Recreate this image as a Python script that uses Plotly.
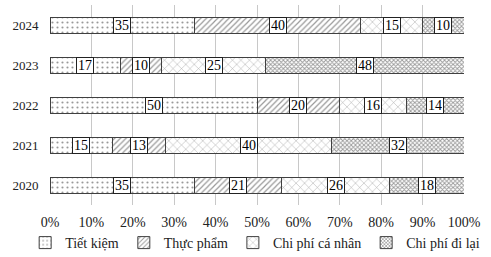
import plotly.graph_objects as go

years = ["2020", "2021", "2022", "2023", "2024"]
series_names = ["Tiết kiệm", "Thực phẩm", "Chi phí cá nhân", "Chi phí đi lại"]
tiet_kiem = [35, 15, 50, 17, 35]
thuc_pham = [21, 13, 20, 10, 40]
ca_nhan = [26, 40, 16, 25, 15]
di_lai = [18, 32, 14, 48, 10]
x_ticks = [0, 10, 20, 30, 40, 50, 60, 70, 80, 90, 100]
x_tick_labels = [f"{t}%" for t in x_ticks]

series_values = [tiet_kiem, thuc_pham, ca_nhan, di_lai]
patterns = [
    dict(shape=".", size=5, solidity=0.15, fgcolor="#333333", bgcolor="white"),
    dict(shape="/", size=4, solidity=0.3, fgcolor="#333333", bgcolor="white"),
    dict(shape="x", size=6, solidity=0.15, fgcolor="#444444", bgcolor="white"),
    dict(shape="x", size=3, solidity=0.5, fgcolor="#333333", bgcolor="white"),
]

FONT = "Liberation Serif"
fig = go.Figure()
for name, vals, pat in zip(series_names, series_values, patterns):
    fig.add_trace(go.Bar(
        y=years, x=vals, name=name, orientation="h",
        marker=dict(color="white", pattern=pat, line=dict(color="#404040", width=1)),
        hoverinfo="skip",
    ))

annotations = []
for yi, yr in enumerate(years):
    cum = 0
    for vals in series_values:
        v = vals[yi]
        annotations.append(dict(
            x=cum + v / 2, y=yi, xref="x", yref="y", text=str(v), showarrow=False,
            font=dict(family=FONT, size=14, color="black"),
            bgcolor="white", bordercolor="#222222", borderwidth=1, borderpad=1,
            height=13,
        ))
        cum += v

fig.update_layout(
    barmode="stack", bargap=0.6,
    width=491, height=257,
    margin=dict(l=50, r=27, t=5, b=52, autoexpand=False),
    paper_bgcolor="white", plot_bgcolor="white",
    font=dict(family=FONT, size=13, color="#222222"),
    annotations=annotations,
    showlegend=True,
    legend=dict(orientation="h", x=-0.06, xanchor="left", y=-0.19, yanchor="middle",
                font=dict(family=FONT, size=14), itemwidth=30, tracegroupgap=0,
                traceorder="normal", bgcolor="rgba(0,0,0,0)"),
)
fig.update_xaxes(range=[0, 100], tickvals=x_ticks, ticktext=x_tick_labels,
                 tickfont=dict(family=FONT, size=14),
                 showgrid=True, gridcolor="#c8c8c8", gridwidth=1,
                 zeroline=False, showline=False,
                 ticks="outside", ticklen=4, tickcolor="rgba(0,0,0,0)",
                 fixedrange=True)
fig.update_yaxes(type="category", range=[-0.5, 4.5], showgrid=False, zeroline=False,
                 showline=False, ticks="outside", ticklen=8,
                 tickcolor="rgba(0,0,0,0)", fixedrange=True)

fig.write_html("out.html", config={"displayModeBar": False})
